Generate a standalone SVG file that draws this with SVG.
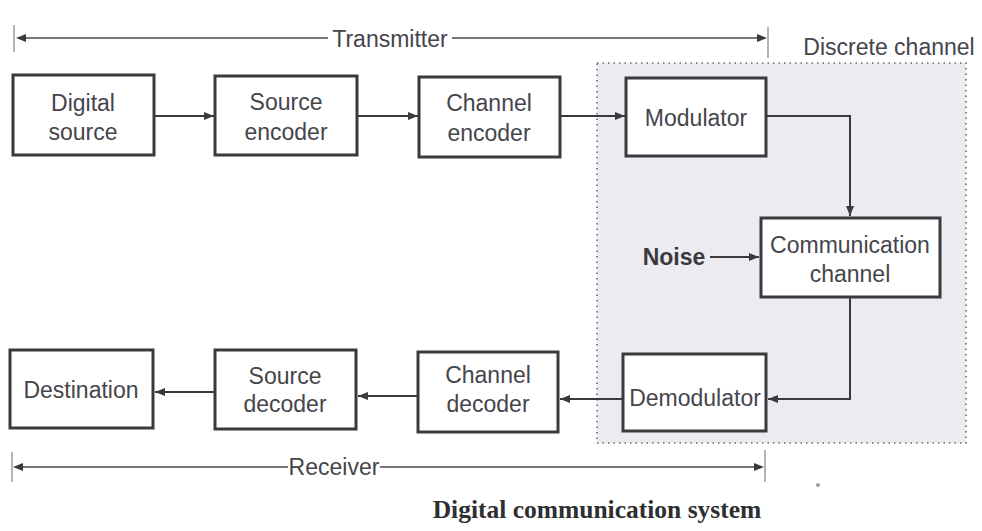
<svg xmlns="http://www.w3.org/2000/svg" width="982" height="531" viewBox="0 0 982 531">
  <defs>
    <marker id="arr" viewBox="0 0 10 8" refX="10" refY="4" markerWidth="10" markerHeight="8" markerUnits="userSpaceOnUse" orient="auto">
      <path d="M0,0 L10,4 L0,8 z" fill="#3a3a3e"/>
    </marker>
    <style>
      .box { fill: #ffffff; stroke: #3a3a3e; stroke-width: 3; }
      .lbl { font-family: "Liberation Sans", Arial, sans-serif; font-size: 23px; fill: #45454b; text-anchor: middle; }
      .wire { fill: none; stroke: #3a3a3e; stroke-width: 2; }
      .span { fill: none; stroke: #4a4a50; stroke-width: 1.6; }
      .tick { stroke: #6a6a70; stroke-width: 1; }
    </style>
  </defs>
  <rect width="982" height="531" fill="#ffffff"/>

  <!-- discrete channel region -->
  <g id="discrete-channel">
    <rect x="597" y="63" width="369" height="380" fill="#ecebf1" stroke="#6a6a72" stroke-width="1.6" stroke-dasharray="1.5 4"/>
    <text class="lbl" x="889" y="55">Discrete channel</text>
  </g>

  <!-- transmitter / receiver extents -->
  <g id="extents">
    <line class="tick" x1="14" y1="25" x2="14" y2="52"/>
    <line class="tick" x1="768" y1="27" x2="768" y2="58"/>
    <line class="span" x1="22" y1="38" x2="328" y2="38"/>
    <path d="M16,38 L26,34 L26,42 z" fill="#3a3a3e"/>
    <line class="span" x1="452" y1="38" x2="758" y2="38"/>
    <path d="M767,38 L757,34 L757,42 z" fill="#3a3a3e"/>
    <text class="lbl" x="390" y="47">Transmitter</text>

    <line class="tick" x1="12" y1="452" x2="12" y2="482"/>
    <line class="tick" x1="765" y1="450" x2="765" y2="482"/>
    <line class="span" x1="22" y1="467" x2="288" y2="467"/>
    <path d="M13,467 L23,463 L23,471 z" fill="#3a3a3e"/>
    <line class="span" x1="380" y1="467" x2="756" y2="467"/>
    <path d="M764,467 L754,463 L754,471 z" fill="#3a3a3e"/>
    <text class="lbl" x="334" y="475">Receiver</text>
  </g>

  <!-- blocks -->
  <g id="digital-source">
    <rect class="box" x="13" y="75" width="141" height="80"/>
    <text class="lbl" x="83" y="111">Digital</text>
    <text class="lbl" x="83" y="140">source</text>
  </g>
  <g id="source-encoder">
    <rect class="box" x="215" y="76" width="142" height="79"/>
    <text class="lbl" x="286" y="110">Source</text>
    <text class="lbl" x="286" y="140">encoder</text>
  </g>
  <g id="channel-encoder">
    <rect class="box" x="419" y="77" width="141" height="80"/>
    <text class="lbl" x="489" y="111">Channel</text>
    <text class="lbl" x="489" y="141">encoder</text>
  </g>
  <g id="modulator">
    <rect class="box" x="626" y="78" width="140" height="78"/>
    <text class="lbl" x="696" y="126">Modulator</text>
  </g>
  <g id="communication-channel">
    <rect class="box" x="761" y="218" width="179" height="79"/>
    <text class="lbl" x="850" y="253">Communication</text>
    <text class="lbl" x="850" y="282">channel</text>
  </g>
  <g id="noise">
    <text x="674" y="265" font-family="Liberation Sans, Arial, sans-serif" font-size="23" font-weight="bold" fill="#3a3a3e" text-anchor="middle">Noise</text>
  </g>
  <g id="demodulator">
    <rect class="box" x="623" y="354" width="143" height="77"/>
    <text class="lbl" x="695" y="406">Demodulator</text>
  </g>
  <g id="channel-decoder">
    <rect class="box" x="418" y="352" width="140" height="80"/>
    <text class="lbl" x="488" y="383">Channel</text>
    <text class="lbl" x="488" y="412">decoder</text>
  </g>
  <g id="source-decoder">
    <rect class="box" x="215" y="350" width="141" height="79"/>
    <text class="lbl" x="285" y="384">Source</text>
    <text class="lbl" x="285" y="412">decoder</text>
  </g>
  <g id="destination">
    <rect class="box" x="10" y="350" width="143" height="78"/>
    <text class="lbl" x="81" y="398">Destination</text>
  </g>

  <!-- connectors -->
  <g id="connectors">
    <line class="wire" x1="155" y1="116" x2="214" y2="116" marker-end="url(#arr)"/>
    <line class="wire" x1="358" y1="116" x2="418" y2="116" marker-end="url(#arr)"/>
    <line class="wire" x1="561" y1="116" x2="625" y2="116" marker-end="url(#arr)"/>
    <polyline class="wire" points="767,116 850,116 850,216" marker-end="url(#arr)"/>
    <line class="wire" x1="710" y1="257" x2="759" y2="257" marker-end="url(#arr)"/>
    <polyline class="wire" points="850,298 850,399 768,399" marker-end="url(#arr)"/>
    <line class="wire" x1="622" y1="399" x2="560" y2="399" marker-end="url(#arr)"/>
    <line class="wire" x1="417" y1="396" x2="358" y2="396" marker-end="url(#arr)"/>
    <line class="wire" x1="214" y1="392" x2="155" y2="392" marker-end="url(#arr)"/>
  </g>

  <!-- caption -->
  <text x="597" y="518" font-family="Liberation Serif, 'Times New Roman', serif" font-size="25.5" font-weight="bold" fill="#2e2e33" text-anchor="middle">Digital communication system</text>
  <circle cx="818" cy="485" r="2" fill="#9a9aa0"/>
</svg>
